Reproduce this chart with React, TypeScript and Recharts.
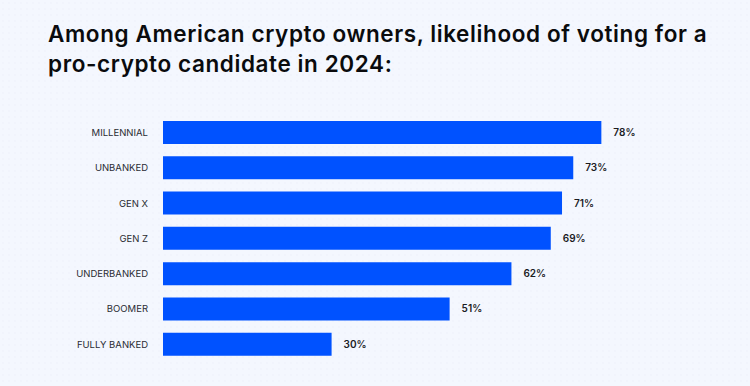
import React from 'react';
import { BarChart, Bar, XAxis, YAxis, LabelList } from 'recharts';

const categories = ['MILLENNIAL', 'UNBANKED', 'GEN X', 'GEN Z', 'UNDERBANKED', 'BOOMER', 'FULLY BANKED'];
const values = [78, 73, 71, 69, 62, 51, 30];

const data = categories.map((name, i) => ({ name, value: values[i] }));

const FONT = 'Inter, "Noto Sans", sans-serif';

export default function App() {
  return (
    <div
      style={{
        position: 'absolute',
        left: 0,
        top: 0,
        width: 750,
        height: 386,
        background: '#f4f7fe',
        backgroundImage: 'radial-gradient(rgba(180,190,215,0.12) 0.6px, transparent 0.8px)',
        backgroundSize: '6px 6px',
        fontFamily: FONT,
        overflow: 'hidden'
      }}
    >
      <div
        style={{
          position: 'absolute',
          left: 48,
          top: 19,
          fontSize: 22.5,
          fontWeight: 600,
          lineHeight: '30px',
          color: '#0a0b0d',
          letterSpacing: '0.6px',
          whiteSpace: 'nowrap'
        }}
      >
        Among American crypto owners, likelihood of voting for a
        <br />
        pro-crypto candidate in 2024:
      </div>
      <BarChart
        width={750}
        height={386}
        data={data}
        layout="vertical"
        margin={{ top: 115, right: 25, bottom: 24, left: 0 }}
      >
        <XAxis type="number" domain={[0, 100]} hide />
        <YAxis
          type="category"
          dataKey="name"
          width={163}
          axisLine={false}
          tickLine={false}
          tickSize={0}
          tickMargin={15}
          tick={{ fontSize: 9.5, fill: '#2a2c33', fontFamily: FONT }}
        />
        <Bar dataKey="value" fill="#0052ff" barSize={23} isAnimationActive={false}>
          <LabelList
            dataKey="value"
            position="right"
            offset={12}
            formatter={(v: any) => `${v}%`}
            style={{ fontSize: 10, fontWeight: 600, fill: '#1a1b1f', fontFamily: FONT }}
          />
        </Bar>
      </BarChart>
    </div>
  );
}
